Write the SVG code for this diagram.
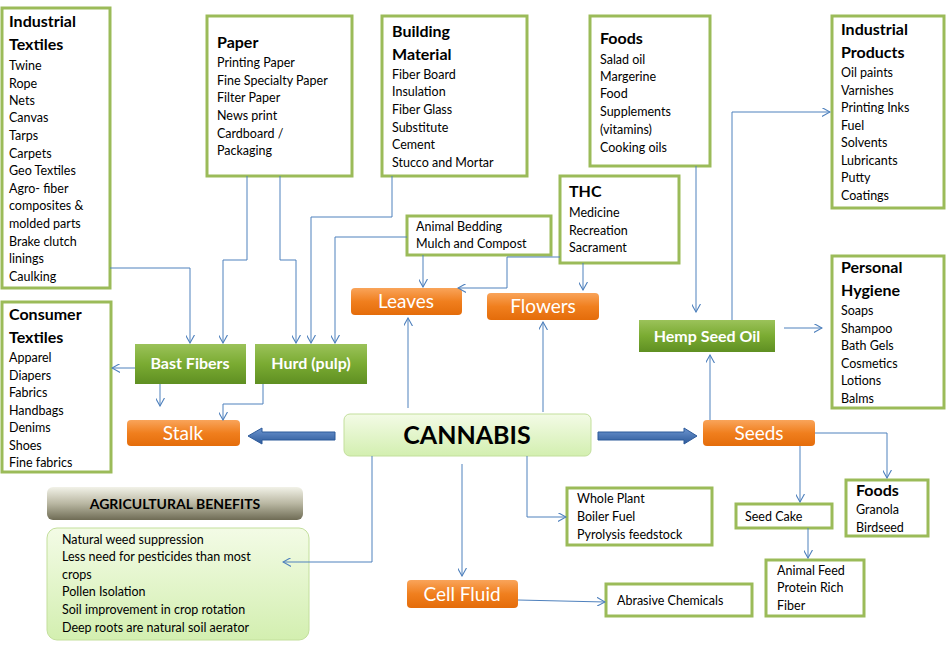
<svg xmlns="http://www.w3.org/2000/svg" width="946" height="647" viewBox="0 0 946 647">
<defs>
<marker id="a" viewBox="0 0 10 10" refX="9" refY="5" markerWidth="9" markerHeight="9" orient="auto" markerUnits="userSpaceOnUse"><path d="M0,0 L9,5 L0,10" fill="none" stroke="#4f81bd" stroke-width="1.2"/></marker>
<linearGradient id="og" x1="0" y1="0" x2="0" y2="1"><stop offset="0" stop-color="#f9a45a"/><stop offset="0.5" stop-color="#f07f1e"/><stop offset="1" stop-color="#e46c0a"/></linearGradient>
<linearGradient id="gg" x1="0" y1="0" x2="0" y2="1"><stop offset="0" stop-color="#9bc25a"/><stop offset="0.5" stop-color="#7aab32"/><stop offset="1" stop-color="#5f8f22"/></linearGradient>
<linearGradient id="lg" x1="0" y1="0" x2="0" y2="1"><stop offset="0" stop-color="#f3fbe6"/><stop offset="1" stop-color="#d3efb0"/></linearGradient>
<linearGradient id="dg" x1="0" y1="0" x2="0" y2="1"><stop offset="0" stop-color="#f2f2e8"/><stop offset="0.5" stop-color="#b9b7a2"/><stop offset="1" stop-color="#6f6c55"/></linearGradient>
<linearGradient id="bg" x1="0" y1="0" x2="0" y2="1"><stop offset="0" stop-color="#6d95d0"/><stop offset="1" stop-color="#2d5a9a"/></linearGradient>
</defs>
<style>
text{font-family:Lato,"Open Sans",sans-serif;fill:#000}
.b{fill:#fff;stroke:#9bbb59;stroke-width:3}
.t{font-size:16px;font-weight:bold}
.i{font-size:12.5px}
.o{fill:url(#og)}
.g{fill:url(#gg)}
.w{fill:#fff;font-size:19px}
.wg{fill:#fff;font-size:16px;font-weight:bold}
.c path,.c polyline,.c line{fill:none;stroke:#4f81bd;stroke-width:1;marker-end:url(#a)}
</style>
<rect width="946" height="647" fill="#fff"/>

<g id="industrial-textiles"><rect class="b" x="2" y="8" width="108" height="280"/>
<text class="t" x="9" y="27">Industrial</text><text class="t" x="9" y="50">Textiles</text>
<text class="i"><tspan x="9" y="70">Twine</tspan><tspan x="9" y="88">Rope</tspan><tspan x="9" y="105">Nets</tspan><tspan x="9" y="122">Canvas</tspan><tspan x="9" y="140">Tarps</tspan><tspan x="9" y="158">Carpets</tspan><tspan x="9" y="175">Geo Textiles</tspan><tspan x="9" y="193">Agro- fiber</tspan><tspan x="9" y="210">composites &amp;</tspan><tspan x="9" y="228">molded parts</tspan><tspan x="9" y="246">Brake clutch</tspan><tspan x="9" y="263">linings</tspan><tspan x="9" y="281">Caulking</tspan></text></g>

<g id="consumer-textiles"><rect class="b" x="2" y="302" width="109" height="170"/>
<text class="t" x="9" y="320">Consumer</text><text class="t" x="9" y="343">Textiles</text>
<text class="i"><tspan x="9" y="362">Apparel</tspan><tspan x="9" y="380">Diapers</tspan><tspan x="9" y="397">Fabrics</tspan><tspan x="9" y="415">Handbags</tspan><tspan x="9" y="432">Denims</tspan><tspan x="9" y="450">Shoes</tspan><tspan x="9" y="467">Fine fabrics</tspan></text></g>

<g id="paper"><rect class="b" x="207" y="16" width="145" height="160"/>
<text class="t" x="217" y="48">Paper</text>
<text class="i"><tspan x="217" y="67">Printing Paper</tspan><tspan x="217" y="85">Fine Specialty Paper</tspan><tspan x="217" y="102">Filter Paper</tspan><tspan x="217" y="120">News print</tspan><tspan x="217" y="138">Cardboard /</tspan><tspan x="217" y="155">Packaging</tspan></text></g>

<g id="building-material"><rect class="b" x="382" y="16" width="145" height="160"/>
<text class="t" x="392" y="37">Building</text><text class="t" x="392" y="60">Material</text>
<text class="i"><tspan x="392" y="79">Fiber Board</tspan><tspan x="392" y="96">Insulation</tspan><tspan x="392" y="114">Fiber Glass</tspan><tspan x="392" y="132">Substitute</tspan><tspan x="392" y="149">Cement</tspan><tspan x="392" y="167">Stucco and Mortar</tspan></text></g>

<g id="foods"><rect class="b" x="590" y="16" width="120" height="150"/>
<text class="t" x="600" y="44">Foods</text>
<text class="i"><tspan x="600" y="64">Salad oil</tspan><tspan x="600" y="81">Margerine</tspan><tspan x="600" y="98">Food</tspan><tspan x="600" y="116">Supplements</tspan><tspan x="600" y="134">(vitamins)</tspan><tspan x="600" y="152">Cooking oils</tspan></text></g>

<g id="industrial-products"><rect class="b" x="832" y="16" width="112" height="192"/>
<text class="t" x="841" y="35">Industrial</text><text class="t" x="841" y="58">Products</text>
<text class="i"><tspan x="841" y="77">Oil paints</tspan><tspan x="841" y="95">Varnishes</tspan><tspan x="841" y="112">Printing Inks</tspan><tspan x="841" y="130">Fuel</tspan><tspan x="841" y="147">Solvents</tspan><tspan x="841" y="165">Lubricants</tspan><tspan x="841" y="182">Putty</tspan><tspan x="841" y="200">Coatings</tspan></text></g>

<g id="thc"><rect class="b" x="560" y="176" width="119" height="87"/>
<text class="t" x="569" y="197">THC</text>
<text class="i"><tspan x="569" y="217">Medicine</tspan><tspan x="569" y="235">Recreation</tspan><tspan x="569" y="252">Sacrament</tspan></text></g>

<g id="animal-bedding"><rect class="b" x="407" y="216" width="144" height="39"/>
<text class="i" font-size="12"><tspan x="416" y="231">Animal Bedding</tspan><tspan x="416" y="248">Mulch and Compost</tspan></text></g>

<g id="personal-hygiene"><rect class="b" x="832" y="256" width="112" height="152"/>
<text class="t" x="841" y="273">Personal</text><text class="t" x="841" y="296">Hygiene</text>
<text class="i"><tspan x="841" y="315">Soaps</tspan><tspan x="841" y="333">Shampoo</tspan><tspan x="841" y="350">Bath Gels</tspan><tspan x="841" y="368">Cosmetics</tspan><tspan x="841" y="385">Lotions</tspan><tspan x="841" y="403">Balms</tspan></text></g>

<g id="leaves"><rect class="o" x="351" y="288" width="111" height="27" rx="4"/><text class="w" x="406" y="308" text-anchor="middle">Leaves</text></g>
<g id="flowers"><rect class="o" x="487" y="293" width="112" height="27" rx="4"/><text class="w" x="543" y="313" text-anchor="middle">Flowers</text></g>
<g id="bast-fibers"><rect class="g" x="135" y="344" width="111" height="40"/><text class="wg" x="190" y="369" text-anchor="middle">Bast Fibers</text></g>
<g id="hurd"><rect class="g" x="255" y="344" width="112" height="40"/><text class="wg" x="311" y="369" text-anchor="middle">Hurd (pulp)</text></g>
<g id="hemp-seed-oil"><rect class="g" x="639" y="320" width="136" height="32"/><text class="wg" x="707" y="342" text-anchor="middle">Hemp Seed Oil</text></g>
<g id="stalk"><rect class="o" x="127" y="420" width="113" height="26" rx="4"/><text class="w" x="183" y="440" text-anchor="middle">Stalk</text></g>
<g id="cannabis"><rect x="344" y="414" width="247" height="42" rx="6" fill="url(#lg)" stroke="#c3df9c" stroke-width="1"/><text x="467" y="444" text-anchor="middle" font-size="25" font-weight="bold">CANNABIS</text></g>
<g id="seeds"><rect class="o" x="703" y="420" width="112" height="26" rx="4"/><text class="w" x="759" y="440" text-anchor="middle">Seeds</text></g>

<g id="agri-title"><rect x="47" y="487" width="256" height="33" rx="6" fill="url(#dg)"/><text x="175" y="509" text-anchor="middle" font-size="14" font-weight="bold">AGRICULTURAL BENEFITS</text></g>
<g id="agri-benefits"><rect x="47" y="528" width="262" height="112" rx="10" fill="url(#lg)" stroke="#c3df9c"/>
<text class="i"><tspan x="62" y="544">Natural weed suppression</tspan><tspan x="62" y="561">Less need for pesticides than most</tspan><tspan x="62" y="579">crops</tspan><tspan x="62" y="596">Pollen Isolation</tspan><tspan x="62" y="614">Soil improvement in crop rotation</tspan><tspan x="62" y="632">Deep roots are natural soil aerator</tspan></text></g>

<g id="whole-plant"><rect class="b" x="567" y="488" width="145" height="57"/>
<text class="i"><tspan x="577" y="503">Whole Plant</tspan><tspan x="577" y="521">Boiler Fuel</tspan><tspan x="577" y="539">Pyrolysis feedstock</tspan></text></g>
<g id="seed-cake"><rect class="b" x="736" y="504" width="96" height="24"/><text class="i" x="745" y="521">Seed Cake</text></g>
<g id="foods2"><rect class="b" x="846" y="480" width="82" height="56"/>
<text class="t" x="856" y="496">Foods</text><text class="i"><tspan x="856" y="514">Granola</tspan><tspan x="856" y="532">Birdseed</tspan></text></g>
<g id="animal-feed"><rect class="b" x="766" y="560" width="98" height="56"/>
<text class="i"><tspan x="777" y="575">Animal Feed</tspan><tspan x="777" y="592">Protein Rich</tspan><tspan x="777" y="610">Fiber</tspan></text></g>
<g id="cell-fluid"><rect class="o" x="407" y="580" width="111" height="28" rx="4"/><text class="w" x="462" y="601" text-anchor="middle">Cell Fluid</text></g>
<g id="abrasive"><rect class="b" x="606" y="584" width="146" height="32"/><text class="i" x="617" y="605">Abrasive Chemicals</text></g>

<g id="connectors" class="c">
<polyline points="110,268 190,268 190,343"/>
<polyline points="247,176 247,260 223,260 223,343"/>
<polyline points="280,176 280,260 296,260 296,343"/>
<polyline points="392,176 392,217 311,217 311,343"/>
<polyline points="407,237 335,237 335,343"/>
<line x1="423" y1="255" x2="423" y2="287"/>
<polyline points="560,257 507,257 507,288 458,288"/>
<line x1="583" y1="263" x2="583" y2="290"/>
<line x1="135" y1="368" x2="112" y2="368"/>
<line x1="160" y1="384" x2="160" y2="406"/>
<polyline points="263,384 263,404 223,404 223,420"/>
<line x1="408" y1="408" x2="408" y2="318"/>
<line x1="543" y1="412" x2="543" y2="322"/>
<polyline points="372,456 372,562 283,562"/>
<line x1="462" y1="464" x2="462" y2="576"/>
<polyline points="527,456 527,517 566,517"/>
<line x1="518" y1="600" x2="605" y2="602"/>
<line x1="710" y1="420" x2="710" y2="355"/>
<line x1="696" y1="166" x2="696" y2="312"/>
<polyline points="732,320 732,112 830,112"/>
<line x1="784" y1="328" x2="822" y2="328"/>
<polyline points="815,433 887,433 887,478"/>
<line x1="800" y1="446" x2="800" y2="502"/>
<line x1="808" y1="528" x2="808" y2="558"/>
</g>
<g id="thick-arrows" fill="url(#bg)" stroke="#2d5a9a" stroke-width="1">
<path d="M335,432 L262,432 L262,428 L248,436 L262,444 L262,440 L335,440 Z"/>
<path d="M598,432 L684,432 L684,428 L697,436 L684,444 L684,440 L598,440 Z"/>
</g>
</svg>
